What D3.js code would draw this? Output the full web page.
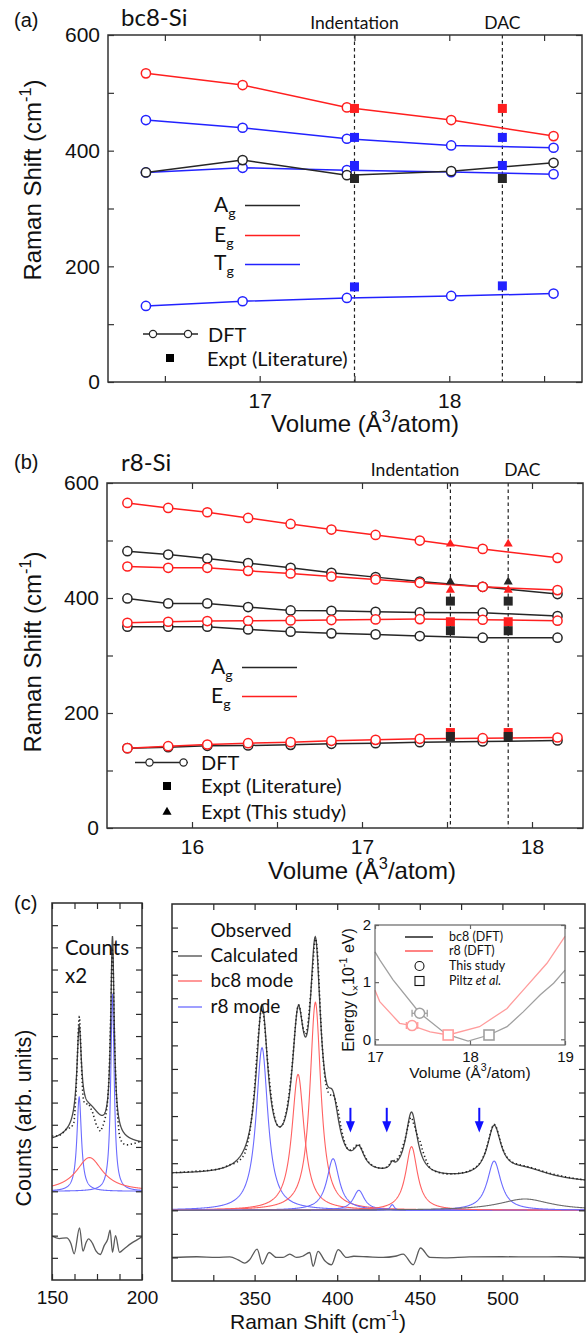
<!DOCTYPE html>
<html>
<head>
<meta charset="utf-8">
<script src="https://cdn.jsdelivr.net/npm/d3@7"></script>
<style>
  body { margin: 0; background: #fff; }
  svg { display: block; }
</style>
</head>
<body>
<div id="fig"></div>
<script>
// ---------- (a) bc8-Si : Raman modes vs volume ----------
var bc8Volume = [16.40, 16.91, 17.46, 18.01, 18.55];
var bc8Eg     = [533.7, 513.5, 474.8, 452.9, 425.2];
var bc8TgHigh = [452.9, 439.6, 420.6, 409.0, 405.0];
var bc8Ag     = [362.3, 383.7, 357.7, 364.6, 379.0];
var bc8TgMid  = [362.3, 370.4, 366.3, 362.9, 359.4];
var bc8TgLow  = [131.5, 139.6, 145.4, 148.8, 152.9];
// experiment (literature) at the Indentation / DAC volumes
var bc8ExptVolume = [17.50, 18.28];
var bc8ExptEg     = [473.0, 473.0];
var bc8ExptTgHigh = [422.9, 422.9];
var bc8ExptTgMid  = [374.4, 374.4];
var bc8ExptAg     = [351.9, 351.9];
var bc8ExptTgLow  = [164.4, 166.2];
var bc8XTicks  = [16.5, 17, 17.5, 18, 18.5];
var bc8XLabels = [17, 18];

// ---------- (b) r8-Si ----------
var r8Volume = [15.62, 15.86, 16.09, 16.33, 16.58, 16.82, 17.08, 17.34, 17.71, 18.15];
var r8Eg1 = [565.3, 556.6, 549.1, 539.2, 528.8, 519.0, 509.7, 499.9, 485.4, 469.8];
var r8Ag1 = [481.4, 475.6, 468.7, 460.6, 452.5, 443.8, 436.3, 428.7, 419.5, 406.8];
var r8Eg2 = [454.8, 452.5, 452.5, 447.2, 442.6, 437.4, 432.2, 426.4, 419.5, 413.7];
var r8Ag2 = [399.2, 390.6, 390.6, 384.2, 378.4, 377.8, 376.1, 374.9, 374.4, 368.6];
var r8Eg3 = [357.0, 358.7, 359.9, 360.4, 361.0, 361.6, 362.8, 363.3, 362.2, 360.5];
var r8Ag3 = [350.0, 350.0, 350.0, 345.4, 341.4, 338.5, 336.7, 333.8, 331.0, 331.0];
var r8Eg4 = [138.9, 142.3, 145.2, 147.5, 149.3, 151.6, 153.3, 155.1, 156.2, 157.4];
var r8Ag4 = [138.9, 140.6, 142.9, 143.5, 144.6, 146.4, 147.5, 149.3, 150.4, 152.2];
var r8ExptVolume = [17.52, 17.86];
var r8StudyEg1 = [494.1, 494.1];   // triangles (this study)
var r8StudyAg1 = [428.2, 428.2];
var r8StudyEg2 = [413.7, 413.7];
var r8LitAg2 = [394.6, 394.6];     // squares (literature)
var r8LitEg3 = [358.7, 358.7];
var r8LitAg3 = [343.1, 343.1];
var r8LitEg4 = [166.0, 166.0];
var r8LitAg4 = [159.1, 159.1];
var r8XTicks  = [16, 16.5, 17, 17.5, 18];
var r8XLabels = [16, 17, 18];

var shiftTicks  = [0, 100, 200, 300, 400, 500, 600];
var shiftLabels = [0, 200, 400, 600];

// ---------- (c) Raman spectrum: fitted Lorentzian components ----------
// low-frequency window (counts x2)
var lowPeakCenter = [165.1, 183.6, 170.8];
var lowPeakHeight = [4.25, 8.9, 1.52];
var lowPeakHwhm   = [1.5, 1.15, 9.0];
var lowPeakPhase  = ["r8", "r8", "bc8"];
var lowBackground = [2.12, 2.05];          // at 150 and 200 cm-1
var lowResidShift = [150, 154, 158, 160.5, 162.3, 165.3, 167.2, 169, 170.3, 172.5, 174.5, 176.8, 179, 181, 182.3, 183.6, 185.3, 187.5, 190, 194, 197, 200];
var lowResid      = [0.08, -0.03, 0, -0.25, -0.72, 0.45, -0.6, -0.2, -0.05, -0.25, -0.6, -0.75, -0.35, -0.05, 0.35, -0.65, 0.1, -0.65, -0.5, -0.25, -0.1, 0.05];
var lowXTicks  = [150, 162.5, 175, 187.5, 200];
var lowXLabels = [150, 200];

// main window
var peakCenter = [354.5, 376.3, 386.8, 397.5, 413.1, 433.3, 445.0, 495.0, 513.6];
var peakHeight = [6.9, 5.77, 8.83, 2.19, 0.85, 0.24, 2.70, 2.09, 0.48];
var peakHwhm   = [4.3, 4.5, 4.0, 4.5, 4.0, 1.5, 4.3, 5.0, 19.0];
var peakPhase  = ["r8", "bc8", "bc8", "r8", "r8", "r8", "bc8", "r8", "other"];
var mainBackground = [1.5, 1.15];          // at 300 and 550 cm-1
var residShift = [300, 315, 327, 335, 340, 344, 347, 351.5, 354.7, 358.8, 363.2, 367.2, 371.3, 375.3, 379, 383.4, 385.4, 388.4, 392.5, 396.5, 400.6, 405.6, 410, 418, 427.8, 435, 439.9, 446, 450.4, 456.1, 465, 480, 500, 520, 535, 550];
var resid      = [0, 0.03, 0, 0.02, -0.1, -0.24, -0.1, 0.35, -0.28, 0.21, 0, 0, 0.14, 0, 0.05, 0.21, -0.38, 0.26, -0.14, -0.31, 0.33, 0, 0.05, 0.03, 0, 0.05, 0.14, -0.31, 0.4, 0, -0.02, 0.02, 0.03, 0.02, 0.03, 0];
var arrowShift = [408, 430, 486];
var mainXTicks  = [325, 350, 375, 400, 425, 450, 475, 500, 525];
var mainXLabels = [350, 400, 450, 500];

// inset: energy vs volume
var bc8EVolume = [17.0, 17.05, 17.19, 17.47, 17.75, 17.98, 18.2, 18.39, 18.56, 18.74, 18.88, 19.0];
var bc8Energy  = [1.53, 1.39, 1.04, 0.46, 0.09, -0.03, 0.075, 0.22, 0.48, 0.78, 0.98, 1.21];
var r8EVolume  = [17.0, 17.05, 17.26, 17.39, 17.58, 17.77, 18.1, 18.39, 18.56, 18.81, 19.0];
var r8Energy   = [0.86, 0.66, 0.28, 0.24, 0.13, 0.075, 0.22, 0.54, 0.86, 1.33, 1.8];
var studyPoints = [{phase: "bc8", v: 17.47, e: 0.455, err: 0.08}, {phase: "r8", v: 17.39, e: 0.24, err: 0.06}];
var piltzPoints = [{phase: "bc8", v: 18.2, e: 0.075}, {phase: "r8", v: 17.77, e: 0.075}];

// ---------------------------------------------------------------
var RED = "#ff1f1f", BLUE = "#2222ff", BLACK = "#262626";
var AXF = "Arial, 'Liberation Sans', sans-serif";
var TXF = "Lato, 'Open Sans', sans-serif";

var svg = d3.select("#fig").append("svg")
    .attr("width", 586).attr("height", 1337)
    .style("background", "#fff");

function frame(g, x, y, o) {
  var xL = x.range()[0], xR = x.range()[1], yB = y.range()[0], yT = y.range()[1];
  var lab = function (list) { return function (d) { return list.indexOf(d) >= 0 ? String(d) : ""; }; };
  var none = function () { return ""; };
  side(d3.axisBottom(x), "translate(0," + yB + ")", o.xTicks, lab(o.xLabels || []), o.xPad);
  side(d3.axisTop(x), "translate(0," + yT + ")", o.xTicks, none, 0);
  side(d3.axisLeft(y), "translate(" + xL + ",0)", o.yTicks, lab(o.yLabels || []), o.yPad);
  side(d3.axisRight(y), "translate(" + xR + ",0)", o.yTicks, none, 0);
  g.append("rect").attr("x", xL).attr("y", yT).attr("width", xR - xL).attr("height", yB - yT)
    .attr("fill", "none").attr("stroke", o.color || "#333").attr("stroke-width", o.sw || 1.5);

  function side(gen, tr, vals, fmt, pad) {
    var s = g.append("g").attr("transform", tr).attr("color", o.color || "#333")
      .call(gen.tickValues(vals).tickSize(-(o.len || 6)).tickPadding(pad || 0).tickFormat(fmt));
    s.select(".domain").remove();
    s.attr("font-family", AXF).attr("font-size", o.fs);
    s.selectAll("line").attr("stroke-width", 1.2);
    s.selectAll("text").attr("fill", "#111");
  }
}

function supText(g, x, y, parts, fs, family, anchor, rotate) {
  var t = g.append("text").attr("font-family", family).attr("font-size", fs)
    .attr("text-anchor", anchor || "middle").attr("fill", "#111");
  if (rotate) t.attr("transform", "translate(" + x + "," + y + ") rotate(-90)");
  else t.attr("x", x).attr("y", y);
  var shift = 0;
  parts.forEach(function (p) {
    var sp = t.append("tspan").text(p.t);
    var target = p.sup ? -0.42 * fs : (p.sub ? 0.3 * fs : 0);
    if (target !== shift) { sp.attr("dy", target - shift); shift = target; }
    if (p.sup || p.sub) sp.attr("font-size", fs * 0.68);
    if (p.italic) sp.attr("font-style", "italic");
  });
  return t;
}

function square(g, cx, cy, s, color) {
  g.append("rect").attr("x", cx - s / 2).attr("y", cy - s / 2).attr("width", s).attr("height", s).attr("fill", color);
}
function triangle(g, cx, cy, color) {
  g.append("path").attr("d", d3.symbol(d3.symbolTriangle, 36)()).attr("transform", "translate(" + cx + "," + cy + ")").attr("fill", color);
}

function dftSeries(g, x, y, vols, vals, color) {
  var line = d3.line().x(function (d, i) { return x(vols[i]); }).y(function (d) { return y(d); });
  g.append("path").attr("d", line(vals)).attr("fill", "none").attr("stroke", color).attr("stroke-width", 1.5);
  g.selectAll(null).data(vals).enter().append("circle")
    .attr("cx", function (d, i) { return x(vols[i]); }).attr("cy", function (d) { return y(d); })
    .attr("r", 4.6).attr("fill", "#fff").attr("stroke", color).attr("stroke-width", 1.5);
}

function dashed(g, x, y, v) {
  g.append("line").attr("x1", x(v)).attr("x2", x(v)).attr("y1", y.range()[1]).attr("y2", y.range()[0])
    .attr("stroke", "#222").attr("stroke-width", 1.2).attr("stroke-dasharray", "3.5,3");
}

function legendLine(g, x1, x2, yy, color) {
  g.append("line").attr("x1", x1).attr("x2", x2).attr("y1", yy).attr("y2", yy).attr("stroke", color).attr("stroke-width", 1.3);
}

function plainText(g, x, y, txt, fs, family, anchor) {
  return g.append("text").attr("x", x).attr("y", y).attr("font-family", family).attr("font-size", fs)
    .attr("text-anchor", anchor || "start").attr("fill", "#111").text(txt);
}

// =================== panel (a) ===================
var ga = svg.append("g");
var xa = d3.scaleLinear().domain([16.2, 18.7]).range([108, 582]);
var ya = d3.scaleLinear().domain([0, 600]).range([382, 35]);

dashed(ga, xa, ya, bc8ExptVolume[0]);
dashed(ga, xa, ya, bc8ExptVolume[1]);
dftSeries(ga, xa, ya, bc8Volume, bc8TgMid, BLUE);
dftSeries(ga, xa, ya, bc8Volume, bc8Ag, BLACK);
dftSeries(ga, xa, ya, bc8Volume, bc8TgLow, BLUE);
dftSeries(ga, xa, ya, bc8Volume, bc8TgHigh, BLUE);
dftSeries(ga, xa, ya, bc8Volume, bc8Eg, RED);
[[bc8ExptEg, RED], [bc8ExptTgHigh, BLUE], [bc8ExptTgMid, BLUE], [bc8ExptAg, BLACK], [bc8ExptTgLow, BLUE]].forEach(function (s) {
  s[0].forEach(function (v, i) { square(ga, xa(bc8ExptVolume[i]), ya(v), 9, s[1]); });
});
frame(ga, xa, ya, {xTicks: bc8XTicks, xLabels: bc8XLabels, yTicks: shiftTicks, yLabels: shiftLabels, fs: 21, xPad: 11, yPad: 8});

plainText(ga, 14, 27, "(a)", 20, AXF);
plainText(ga, 121, 26, "bc8-Si", 24, TXF);
plainText(ga, xa(bc8ExptVolume[0]), 29, "Indentation", 17.5, TXF, "middle");
plainText(ga, xa(bc8ExptVolume[1]), 29, "DAC", 17.5, TXF, "middle");

supText(ga, 214, 212, [{t: "A"}, {t: "g", sub: true}], 21, TXF, "start");
supText(ga, 214, 242, [{t: "E"}, {t: "g", sub: true}], 21, TXF, "start");
supText(ga, 214, 270, [{t: "T"}, {t: "g", sub: true}], 21, TXF, "start");
legendLine(ga, 245, 300, 205.5, BLACK);
legendLine(ga, 245, 300, 235.5, RED);
legendLine(ga, 245, 300, 264.5, BLUE);
legendLine(ga, 143, 198, 334, BLACK);
ga.selectAll(null).data([153, 188]).enter().append("circle").attr("cx", function (d) { return d; }).attr("cy", 334)
  .attr("r", 3.6).attr("fill", "#fff").attr("stroke", BLACK).attr("stroke-width", 1.2);
plainText(ga, 208, 342, "DFT", 20, TXF);
square(ga, 170, 358, 8, "#000");
plainText(ga, 207, 366, "Expt (Literature)", 20, TXF);

supText(ga, 365, 432, [{t: "Volume (Å"}, {t: "3", sup: true}, {t: "/atom)"}], 24, AXF, "middle");
supText(ga, 41, 180, [{t: "Raman Shift (cm"}, {t: "-1", sup: true}, {t: ")"}], 24, AXF, "middle", true);

// =================== panel (b) ===================
var gb = svg.append("g");
var xb = d3.scaleLinear().domain([15.5, 18.3]).range([107, 583]);
var yb = d3.scaleLinear().domain([0, 600]).range([828, 483]);

dashed(gb, xb, yb, r8ExptVolume[0]);
dashed(gb, xb, yb, r8ExptVolume[1]);
[r8Ag4, r8Ag3, r8Ag2, r8Ag1].forEach(function (s) { dftSeries(gb, xb, yb, r8Volume, s, BLACK); });
[r8Eg4, r8Eg3, r8Eg2, r8Eg1].forEach(function (s) { dftSeries(gb, xb, yb, r8Volume, s, RED); });
[[r8StudyEg1, RED], [r8StudyAg1, BLACK], [r8StudyEg2, RED]].forEach(function (s) {
  s[0].forEach(function (v, i) { triangle(gb, xb(r8ExptVolume[i]), yb(v), s[1]); });
});
[[r8LitAg2, BLACK], [r8LitEg3, RED], [r8LitAg3, BLACK], [r8LitEg4, RED], [r8LitAg4, BLACK]].forEach(function (s) {
  s[0].forEach(function (v, i) { square(gb, xb(r8ExptVolume[i]), yb(v), 9, s[1]); });
});
frame(gb, xb, yb, {xTicks: r8XTicks, xLabels: r8XLabels, yTicks: shiftTicks, yLabels: shiftLabels, fs: 21, xPad: 11, yPad: 8});

plainText(gb, 14, 469, "(b)", 20, AXF);
plainText(gb, 121, 471, "r8-Si", 24, TXF);
plainText(gb, xb(r8ExptVolume[0]) + 9, 476, "Indentation", 17.5, TXF, "end");
plainText(gb, xb(r8ExptVolume[1]) - 4, 476, "DAC", 17.5, TXF, "start");

supText(gb, 211, 674, [{t: "A"}, {t: "g", sub: true}], 21, TXF, "start");
supText(gb, 211, 703, [{t: "E"}, {t: "g", sub: true}], 21, TXF, "start");
legendLine(gb, 242, 297, 667.5, BLACK);
legendLine(gb, 242, 297, 696.5, RED);
legendLine(gb, 135, 188, 762.5, BLACK);
gb.selectAll(null).data([149.5, 183.5]).enter().append("circle").attr("cx", function (d) { return d; }).attr("cy", 762.5)
  .attr("r", 3.6).attr("fill", "#fff").attr("stroke", BLACK).attr("stroke-width", 1.2);
plainText(gb, 201, 770, "DFT", 20, TXF);
square(gb, 167, 786, 8, "#000");
plainText(gb, 201, 793, "Expt (Literature)", 20, TXF);
triangle(gb, 167, 812, "#000");
plainText(gb, 201, 819, "Expt (This study)", 20, TXF);

supText(gb, 362, 879, [{t: "Volume (Å"}, {t: "3", sup: true}, {t: "/atom)"}], 24, AXF, "middle");
supText(gb, 41, 652, [{t: "Raman Shift (cm"}, {t: "-1", sup: true}, {t: ")"}], 24, AXF, "middle", true);

// =================== panel (c) ===================
var gc = svg.append("g");
var xcl = d3.scaleLinear().domain([150, 200]).range([52, 142]);
var ycl = d3.scaleLinear().domain([-4, 13]).range([1280, 903]);
var xcm = d3.scaleLinear().domain([300, 550]).range([172, 585]);
var ycm = d3.scaleLinear().domain([-3, 13]).range([1281, 904]);

var PH_COL = {r8: "#6b6bff", bc8: "#ff6161", other: "#6a6a6a"};

function lorentz(x, c, h, w) { var u = (x - c) / w; return h / (1 + u * u); }

function spectrum(g, x, y, grid, centers, heights, widths, phases, bg, rx, ry, residOffset, clipId) {
  var bgScale = d3.scaleLinear().domain(x.domain()).range(bg);
  var residScale = d3.scaleLinear().domain(rx).range(ry).clamp(true);
  var line = d3.line().x(function (d) { return x(d[0]); }).y(function (d) { return y(d[1]); });
  g.append("clipPath").attr("id", clipId).append("rect")
    .attr("x", x.range()[0]).attr("y", y.range()[1]).attr("width", x.range()[1] - x.range()[0]).attr("height", y.range()[0] - y.range()[1]);
  var cg = g.append("g").attr("clip-path", "url(#" + clipId + ")");
  centers.forEach(function (c, k) {
    var pts = grid.map(function (s) { return [s, lorentz(s, c, heights[k], widths[k])]; });
    cg.append("path").attr("d", line(pts)).attr("fill", "none").attr("stroke", PH_COL[phases[k]]).attr("stroke-width", 1.1);
  });
  var calc = grid.map(function (s) {
    var v = bgScale(s);
    centers.forEach(function (c, k) { v += lorentz(s, c, heights[k], widths[k]); });
    return [s, v];
  });
  cg.append("path").attr("d", line(calc)).attr("fill", "none").attr("stroke", "#4a4a4a").attr("stroke-width", 1.3);
  var obs = calc.map(function (d) { return [d[0], d[1] + residScale(d[0])]; });
  cg.append("path").attr("d", line(obs)).attr("fill", "none").attr("stroke", "#222").attr("stroke-width", 1.6)
    .attr("stroke-dasharray", "1.3,2.6");
  var res = rx.map(function (s, i) { return [s, residOffset + ry[i]]; });
  cg.append("path").attr("d", line.curve(d3.curveMonotoneX)(res)).attr("fill", "none").attr("stroke", "#5a5a5a").attr("stroke-width", 1.3);
}

spectrum(gc, xcl, ycl, d3.range(150, 200.001, 0.1), lowPeakCenter, lowPeakHeight, lowPeakHwhm, lowPeakPhase,
  lowBackground, lowResidShift, lowResid, -2.1, "clipLow");
spectrum(gc, xcm, ycm, d3.range(300, 550.001, 0.25), peakCenter, peakHeight, peakHwhm, peakPhase,
  mainBackground, residShift, resid, -2, "clipMain");

frame(gc, xcl, ycl, {xTicks: lowXTicks, xLabels: lowXLabels, yTicks: d3.range(-3, 13), fs: 19, xPad: 10.5, color: "#2a2a2a"});
frame(gc, xcm, ycm, {xTicks: mainXTicks, xLabels: mainXLabels, yTicks: d3.range(-2, 13), fs: 19, xPad: 10.5, color: "#2a2a2a"});

// arrows marking weak r8 modes
arrowShift.forEach(function (s) {
  var ax = xcm(s);
  gc.append("line").attr("x1", ax).attr("x2", ax).attr("y1", ycm(4.35)).attr("y2", ycm(3.7))
    .attr("stroke", "#1010ff").attr("stroke-width", 2);
  gc.append("path").attr("d", "M" + (ax - 4.5) + "," + ycm(3.78) + "L" + (ax + 4.5) + "," + ycm(3.78) + "L" + ax + "," + ycm(3.3) + "Z")
    .attr("fill", "#1010ff");
});

plainText(gc, 14, 910, "(c)", 20, AXF);
plainText(gc, 65, 955, "Counts", 20.5, TXF);
plainText(gc, 65, 983, "x2", 20.5, TXF);

plainText(gc, 210.5, 937, "Observed", 19, TXF);
[["Calculated", "#4a4a4a", 962], ["bc8 mode", PH_COL.bc8, 987], ["r8 mode", PH_COL.r8, 1013]].forEach(function (e) {
  legendLine(gc, 178, 202, e[2] - 6, e[1]);
  plainText(gc, 210.5, e[2], e[0], 19, TXF);
});

supText(gc, 318, 1329, [{t: "Raman Shift (cm"}, {t: "-1", sup: true}, {t: ")"}], 21, AXF, "middle");
supText(gc, 31, 1118, [{t: "Counts (arb. units)"}], 21.5, AXF, "middle", true);

// ---------- inset ----------
var gi = svg.append("g");
var xi = d3.scaleLinear().domain([17, 19]).range([375, 565]);
var yi = d3.scaleLinear().domain([-0.1, 2]).range([1045, 925]);
gi.append("rect").attr("x", 375).attr("y", 925).attr("width", 190).attr("height", 120).attr("fill", "#fff");
var INSET_COL = {bc8: "#a0a0a0", r8: "#ff9c9c"};
var eLine = d3.line().x(function (d) { return xi(d[0]); }).y(function (d) { return yi(d[1]); });
gi.append("path").attr("d", eLine(bc8EVolume.map(function (v, i) { return [v, bc8Energy[i]]; })))
  .attr("fill", "none").attr("stroke", INSET_COL.bc8).attr("stroke-width", 1.3);
gi.append("path").attr("d", eLine(r8EVolume.map(function (v, i) { return [v, r8Energy[i]]; })))
  .attr("fill", "none").attr("stroke", INSET_COL.r8).attr("stroke-width", 1.3);
studyPoints.forEach(function (p) {
  var c = INSET_COL[p.phase];
  gi.append("line").attr("x1", xi(p.v - p.err)).attr("x2", xi(p.v + p.err)).attr("y1", yi(p.e)).attr("y2", yi(p.e)).attr("stroke", c).attr("stroke-width", 1.3);
  [p.v - p.err, p.v + p.err].forEach(function (v) {
    gi.append("line").attr("x1", xi(v)).attr("x2", xi(v)).attr("y1", yi(p.e) - 3.5).attr("y2", yi(p.e) + 3.5).attr("stroke", c).attr("stroke-width", 1.3);
  });
  gi.append("circle").attr("cx", xi(p.v)).attr("cy", yi(p.e)).attr("r", 5).attr("fill", "#fff").attr("stroke", c).attr("stroke-width", 1.5);
});
piltzPoints.forEach(function (p) {
  gi.append("rect").attr("x", xi(p.v) - 5).attr("y", yi(p.e) - 5).attr("width", 10).attr("height", 10)
    .attr("fill", "#fff").attr("stroke", INSET_COL[p.phase]).attr("stroke-width", 1.6);
});
frame(gi, xi, yi, {xTicks: [17, 18, 19], xLabels: [17, 18, 19], yTicks: [0, 1, 2], yLabels: [0, 1, 2], fs: 15, xPad: 6, yPad: 4, len: 4, color: "#666", sw: 1.2});

legendLine(gi, 405, 433, 937, "#000");
legendLine(gi, 405, 433, 951, "#ff4040");
gi.append("circle").attr("cx", 419.5).attr("cy", 966).attr("r", 4.5).attr("fill", "#fff").attr("stroke", "#111").attr("stroke-width", 1.1);
gi.append("rect").attr("x", 415).attr("y", 976.5).attr("width", 9).attr("height", 9).attr("fill", "#fff").attr("stroke", "#111").attr("stroke-width", 1.1);
plainText(gi, 449, 941, "bc8 (DFT)", 12.5, TXF);
plainText(gi, 449, 955, "r8 (DFT)", 12.5, TXF);
plainText(gi, 449, 970, "This study", 12.5, TXF);
supText(gi, 449, 985, [{t: "Piltz "}, {t: "et al.", italic: true}], 12.5, TXF, "start");

supText(gi, 470, 1078, [{t: "Volume (Å"}, {t: "3", sup: true}, {t: "/atom)"}], 15.5, AXF, "middle");
supText(gi, 354, 990, [{t: "Energy ("}, {t: "×", sub: true}, {t: "10"}, {t: "-1", sup: true}, {t: " eV)"}], 16, AXF, "middle", true);
</script>
</body>
</html>
